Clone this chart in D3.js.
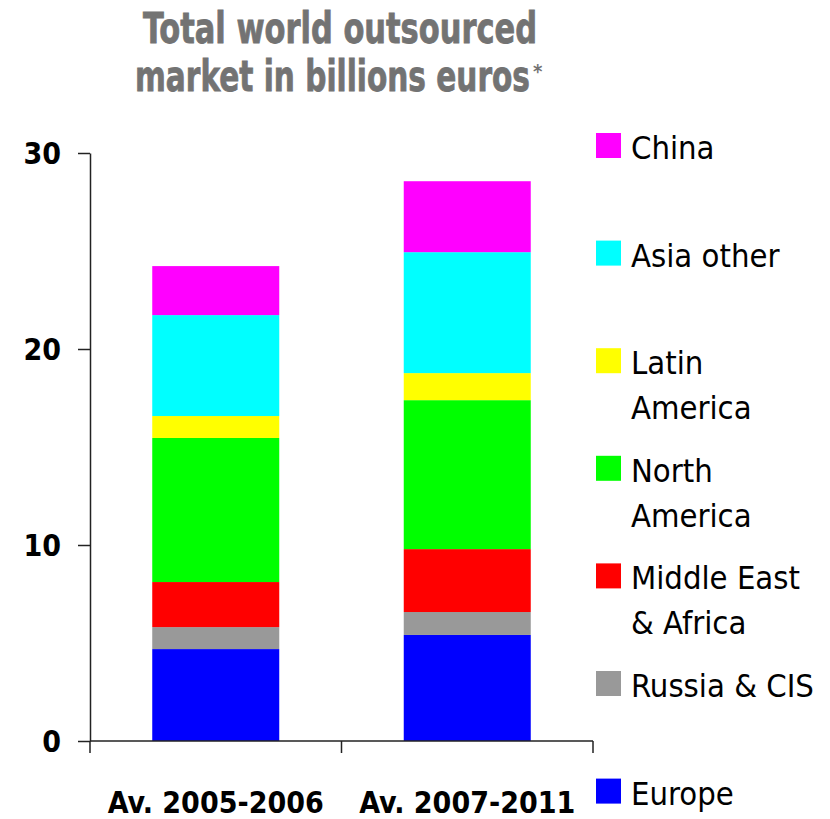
<!DOCTYPE html>
<html><head><meta charset="utf-8">
<script src="https://cdn.jsdelivr.net/npm/d3@7"></script>
<style>html,body{margin:0;padding:0;background:#fff;}svg{display:block;}</style>
</head><body>
<script>
const categories = ["Av. 2005-2006", "Av. 2007-2011"];
const seriesNames = ["Europe", "Russia & CIS", "Middle East & Africa", "North America", "Latin America", "Asia other", "China"];
const europe      = [4.69, 5.41];
const russiaCIS   = [1.12, 1.17];
const middleEast  = [2.30, 3.21];
const northAm     = [7.35, 7.60];
const latinAm     = [1.12, 1.38];
const asiaOther   = [5.15, 6.17];
const china       = [2.50, 3.62];
const yTicks = [0, 10, 20, 30];
const colors = ["#0000ff", "#999999", "#ff0000", "#00ff00", "#ffff00", "#00ffff", "#ff00ff"];
const legendLines = {
  "China": ["China"], "Asia other": ["Asia other"], "Latin America": ["Latin", "America"],
  "North America": ["North", "America"], "Middle East & Africa": ["Middle East", "& Africa"],
  "Russia & CIS": ["Russia & CIS"], "Europe": ["Europe"]
};

const W = 830, H = 819;
const svg = d3.select("body").append("svg").attr("width", W).attr("height", H);

const values = [europe, russiaCIS, middleEast, northAm, latinAm, asiaOther, china];
const rows = categories.map((c, i) => {
  const r = {cat: c};
  seriesNames.forEach((s, j) => r[s] = values[j][i]);
  return r;
});
const stacked = d3.stack().keys(seriesNames)(rows);

const x = d3.scaleBand().domain(categories).range([90, 593]).paddingInner(0.495).paddingOuter(0.2475);
const y = d3.scaleLinear().domain([0, 30]).range([741, 153]);
const color = d3.scaleOrdinal().domain(seriesNames).range(colors);

// Title
const title = svg.append("g").attr("fill", "#737373")
  .style("font-family", "'DejaVu Sans Condensed', 'DejaVu Sans', sans-serif")
  .style("font-weight", "bold").style("font-size", "43px");
title.append("text").attr("x", 143).attr("y", 43)
  .attr("textLength", 394).attr("lengthAdjust", "spacingAndGlyphs")
  .attr("stroke", "#737373").attr("stroke-width", 0.8)
  .text("Total world outsourced");
const t2 = title.append("text").attr("x", 135).attr("y", 91);
t2.append("tspan")
  .attr("textLength", 395).attr("lengthAdjust", "spacingAndGlyphs")
  .attr("stroke", "#737373").attr("stroke-width", 0.8)
  .text("market in billions euros");
t2.append("tspan").attr("dx", 3).attr("dy", -13).style("font-size", "20px").text("*");

// Bars
svg.append("g").selectAll("g").data(stacked).join("g")
  .attr("fill", d => color(d.key))
  .selectAll("rect").data(d => d).join("rect")
  .attr("x", d => x(d.data.cat))
  .attr("width", x.bandwidth())
  .attr("y", d => y(d[1]))
  .attr("height", d => y(d[0]) - y(d[1]));

// Y axis
const yAxis = svg.append("g").attr("transform", "translate(90,0)")
  .call(d3.axisLeft(y).tickValues(yTicks).tickSize(12).tickSizeOuter(0).tickPadding(17));
yAxis.select(".domain").attr("stroke", "#222").attr("stroke-width", 1.5);
yAxis.selectAll(".tick line").attr("stroke", "#222").attr("stroke-width", 1.5);
yAxis.selectAll(".tick text")
  .style("font-family", "'DejaVu Sans Condensed', 'DejaVu Sans', sans-serif")
  .style("font-weight", "bold").style("font-size", "30px").attr("fill", "#000").attr("dy", "0.36em");

// X axis
const xr = x.range();
const boundaries = [xr[0]].concat(categories.map(c => x(c) + x.bandwidth() + x.step() * x.paddingInner() / 2));
boundaries[boundaries.length - 1] = xr[1];
const xg = svg.append("g");
xg.append("line").attr("x1", xr[0]).attr("x2", xr[1]).attr("y1", y(0)).attr("y2", y(0))
  .attr("stroke", "#222").attr("stroke-width", 1.5);
xg.selectAll("line.t").data(boundaries).join("line").attr("class", "t")
  .attr("x1", d => d).attr("x2", d => d).attr("y1", y(0)).attr("y2", y(0) + 12)
  .attr("stroke", "#222").attr("stroke-width", 1.5);
xg.selectAll("text").data(categories).join("text")
  .attr("x", d => x(d) + x.bandwidth() / 2).attr("y", 813)
  .attr("text-anchor", "middle")
  .style("font-family", "'DejaVu Sans Condensed', 'DejaVu Sans', sans-serif")
  .style("font-weight", "bold").style("font-size", "30px").attr("fill", "#000")
  .text(d => d);

// Legend
const legendOrder = seriesNames.slice().reverse();
const lg = svg.append("g").selectAll("g").data(legendOrder).join("g")
  .attr("transform", (d, i) => `translate(596,${133 + i * 107.6})`);
lg.append("rect").attr("width", 25).attr("height", 25).attr("fill", d => color(d));
lg.each(function(d) {
  const t = d3.select(this).append("text").attr("x", 35).attr("y", 26)
    .style("font-family", "'DejaVu Sans Condensed', 'DejaVu Sans', sans-serif")
    .style("font-size", "32.5px").attr("fill", "#000");
  legendLines[d].forEach((line, k) => {
    t.append("tspan").attr("x", 35).attr("dy", k === 0 ? 0 : 45).text(line);
  });
});
</script>
</body></html>
